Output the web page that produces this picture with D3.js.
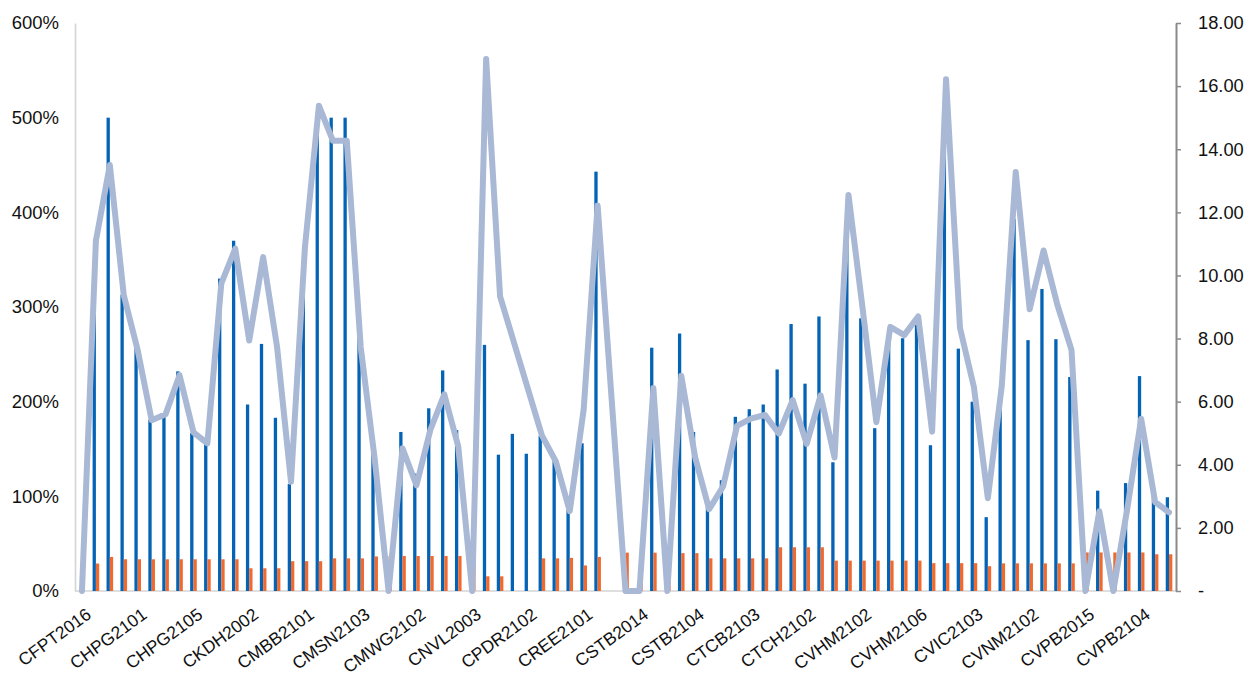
<!DOCTYPE html>
<html>
<head>
<meta charset="utf-8">
<script src="https://cdn.jsdelivr.net/npm/d3@7"></script>
<style>
  html, body { margin: 0; padding: 0; background: #fff; }
  svg { display: block; font-family: "Liberation Sans", Arial, sans-serif; }
</style>
</head>
<body>
<svg id="chart" width="1245" height="673"></svg>
<script>
// covered warrant codes, one per category
const categories = [
  'CFPT2016', 'CFPT2101', 'CHDB2101', 'CHPG2012',
  'CHPG2101', 'CHPG2102', 'CHPG2103', 'CHPG2104',
  'CHPG2105', 'CHPG2106', 'CHPG2107', 'CKDH2001',
  'CKDH2002', 'CKDH2101', 'CKDH2102', 'CMBB2012',
  'CMBB2101', 'CMBB2102', 'CMSN2101', 'CMSN2102',
  'CMSN2103', 'CMSN2104', 'CMWG2012', 'CMWG2101',
  'CMWG2102', 'CMWG2103', 'CMWG2104', 'CNVL2002',
  'CNVL2003', 'CNVL2101', 'CNVL2102', 'CPDR2101',
  'CPDR2102', 'CPNJ2101', 'CREE2012', 'CREE2013',
  'CREE2101', 'CREE2102', 'CSTB2012', 'CSTB2013',
  'CSTB2014', 'CSTB2101', 'CSTB2102', 'CSTB2103',
  'CSTB2104', 'CSTB2105', 'CTCB2101', 'CTCB2102',
  'CTCB2103', 'CTCB2104', 'CTCH2012', 'CTCH2101',
  'CTCH2102', 'CTCH2103', 'CVHM2012', 'CVHM2101',
  'CVHM2102', 'CVHM2103', 'CVHM2104', 'CVHM2105',
  'CVHM2106', 'CVIC2012', 'CVIC2101', 'CVIC2102',
  'CVIC2103', 'CVJC2101', 'CVNM2012', 'CVNM2101',
  'CVNM2102', 'CVNM2103', 'CVNM2104', 'CVPB2012',
  'CVPB2015', 'CVPB2101', 'CVPB2102', 'CVPB2103',
  'CVPB2104', 'CVRE2101', 'CVRE2102'
];

// blue bars, percent (left axis)
const blueValues = [
  0, 330, 500, 313, 257, 181, 188, 232, 167, 156,
  330, 370, 197, 261, 183, 113, 344, 490, 500, 500,
  267, 155, 0, 168, 124, 193, 233, 170, 0, 260,
  144, 166, 145, 164, 140, 86, 156, 443, 0, 0,
  0, 257, 0, 272, 168, 89, 117, 184, 192, 197,
  234, 282, 219, 290, 136, 403, 288, 172, 268, 267,
  281, 154, 477, 256, 200, 78, 207, 393, 265, 319,
  266, 226, 0, 106, 0, 114, 227, 109, 99
];

// orange bars, percent (left axis)
const orangeValues = [
  0, 29, 36, 33.5, 33.5, 33.5, 33.5, 33.5, 33.5, 33.5,
  33.5, 33.5, 24, 24, 24, 31.5, 31.5, 31.5, 34.5, 34.5,
  34.5, 36.5, 37, 37, 37, 37, 37, 37, 37, 15.5,
  15.5, 0, 0, 34.5, 34.5, 35, 27, 36, 0, 40.5,
  40.5, 40.5, 40.5, 40, 40, 34.5, 34.5, 34.5, 34.5, 34.5,
  46.2, 46.2, 46.2, 46.2, 32.1, 32.1, 32.1, 32.1, 32.1, 32.1,
  32.1, 29.4, 29.4, 29.4, 29.4, 26.2, 29.2, 29.2, 29.2, 29.2,
  29.2, 29.2, 40.7, 40.7, 40.7, 40.7, 40.7, 38.8, 38.8
];

// grey line (right axis); null where there is no point
const lineValues = [
  0, 11.1, 13.5, 9.37, 7.63, 5.41, 5.6, 6.84, 5.03, 4.68,
  9.75, 10.85, 7.94, 10.58, 7.73, 3.46, 10.9, 15.38, 14.27, 14.27,
  7.73, 4.2, 0, 4.52, 3.35, 5.11, 6.23, 4.58, 0, 16.86,
  9.34, null, null, 4.93, 4.11, 2.53, 5.76, 12.22, null, 0,
  0, 6.43, 0, 6.82, 4.23, 2.59, 3.31, 5.23, 5.46, 5.58,
  4.99, 6.05, 4.66, 6.2, 4.23, 12.55, 9.0, 5.35, 8.37, 8.11,
  8.7, 5.05, 16.22, 8.34, 6.46, 2.94, 6.5, 13.28, 8.93, 10.79,
  9.05, 7.64, 0, 2.53, 0, 2.6, 5.46, 2.82, 2.49
];

const leftTicks = [0, 1, 2, 3, 4, 5, 6];          // x100%
const rightTicks = [0, 2, 4, 6, 8, 10, 12, 14, 16, 18];

const plot = { left: 75, right: 1176, top: 23, bottom: 591 };

const svg = d3.select('#chart');

const x = d3.scaleBand()
  .domain(categories)
  .range([plot.left, plot.right])
  .padding(0);

const yLeft = d3.scaleLinear().domain([0, 6]).range([plot.bottom, plot.top]);
const yRight = d3.scaleLinear().domain([0, 18]).range([plot.bottom, plot.top]);

const groupWidth = 6.6;
const x1 = d3.scaleBand().domain(['blue', 'orange']).range([0, groupWidth]);

const rows = categories.map((c, i) => ({
  cat: c,
  blue: blueValues[i] / 100,
  orange: orangeValues[i] / 100,
  ratio: lineValues[i]
}));

// left axis
const gLeft = svg.append('g')
  .attr('transform', `translate(${plot.left},0)`)
  .call(d3.axisLeft(yLeft)
    .tickValues(leftTicks)
    .tickFormat(d => d3.format('.0%')(d))
    .tickSize(0)
    .tickSizeOuter(0)
    .tickPadding(16));
gLeft.select('.domain').attr('stroke', '#d4d4d4').attr('stroke-width', 1.6);
gLeft.selectAll('text').attr('font-size', 18.5).attr('fill', '#111')
  .attr('font-family', '"Liberation Sans", Arial, sans-serif');

// baseline
svg.append('line')
  .attr('x1', plot.left).attr('x2', plot.right)
  .attr('y1', plot.bottom).attr('y2', plot.bottom)
  .attr('stroke', '#d4d4d4').attr('stroke-width', 1.6);

// right axis
const gRight = svg.append('g')
  .attr('transform', `translate(${plot.right},0)`)
  .call(d3.axisRight(yRight)
    .tickValues(rightTicks)
    .tickFormat(d => d === 0 ? '-' : d.toFixed(2))
    .tickSize(5)
    .tickSizeOuter(0)
    .tickPadding(17));
gRight.select('.domain').attr('stroke', '#8a8a8a').attr('stroke-width', 2);
gRight.selectAll('.tick line').attr('stroke', '#8a8a8a').attr('stroke-width', 1.5);
gRight.selectAll('text').attr('font-size', 18.3).attr('fill', '#111')
  .attr('font-family', '"Liberation Sans", Arial, sans-serif');

// bottom category labels, every fourth
const gBottom = svg.append('g')
  .attr('transform', `translate(0,${plot.bottom})`)
  .call(d3.axisBottom(x)
    .tickValues(categories.filter((d, i) => i % 4 === 0))
    .tickSize(0));
gBottom.select('.domain').remove();
gBottom.selectAll('text')
  .attr('font-size', 17.5)
  .attr('fill', '#111')
  .attr('font-family', '"Liberation Sans", Arial, sans-serif')
  .attr('x', 0).attr('y', 0)
  .attr('dy', '0.71em')
  .attr('text-anchor', 'end')
  .attr('transform', 'translate(3,16) rotate(-36)');

// bars
const bars = svg.append('g');
const offset = (x.bandwidth() - groupWidth) / 2;

bars.selectAll('rect.blue')
  .data(rows)
  .enter()
  .append('rect')
  .attr('class', 'blue')
  .attr('x', d => x(d.cat) + offset + x1('blue'))
  .attr('width', x1.bandwidth())
  .attr('y', d => yLeft(d.blue))
  .attr('height', d => plot.bottom - yLeft(d.blue))
  .attr('fill', '#0563b5');

bars.selectAll('rect.orange')
  .data(rows)
  .enter()
  .append('rect')
  .attr('class', 'orange')
  .attr('x', d => x(d.cat) + offset + x1('orange'))
  .attr('width', x1.bandwidth())
  .attr('y', d => yLeft(d.orange))
  .attr('height', d => plot.bottom - yLeft(d.orange))
  .attr('fill', '#f0692f');

// ratio line on the right axis, gaps are bridged
const line = d3.line()
  .x(d => x(d.cat) + x.bandwidth() / 2)
  .y(d => yRight(d.ratio));

svg.append('path')
  .datum(rows.filter(d => d.ratio !== null))
  .attr('d', line)
  .attr('fill', 'none')
  .attr('stroke', '#a8b8d5')
  .attr('stroke-width', 6)
  .attr('stroke-linejoin', 'round')
  .attr('stroke-linecap', 'round');
</script>
</body>
</html>
